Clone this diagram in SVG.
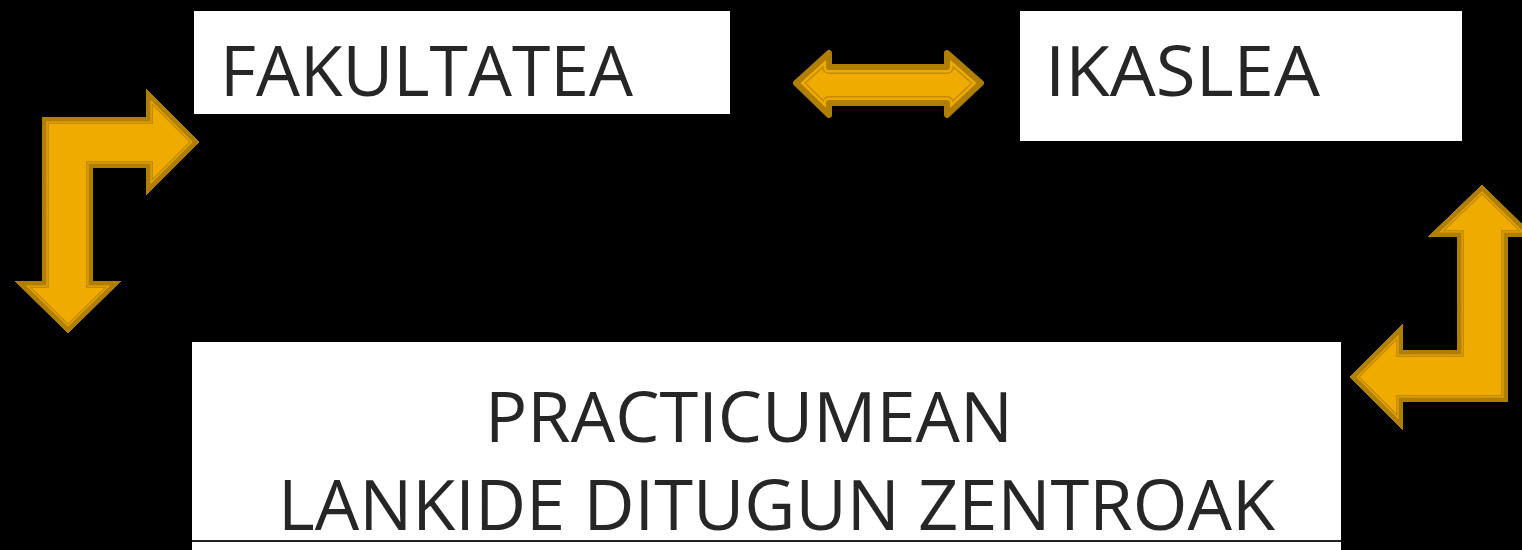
<svg xmlns="http://www.w3.org/2000/svg" xmlns:xlink="http://www.w3.org/1999/xlink" width="1522" height="550" viewBox="0 0 1522 550">
<style>
.box{fill:#ffffff}
.lbl{font-family:"Open Sans","Liberation Sans",sans-serif;font-size:70px;fill:#262626}
.afill{fill:#EFAB00}
.c1{fill:none;stroke:#C48C00;stroke-width:14}
.c2{fill:none;stroke:#EFAB00;stroke-width:11}
.c3{fill:none;stroke:#B07E00;stroke-width:9}
.rnd{fill:none;stroke:#B07E00;stroke-width:6;stroke-linejoin:round}
</style>
<defs>
<path id="pL" d="M42,117 L146,117 L146,89 L199,142 L146,195 L146,168 L93,168 L93,281 L121,281 L68,333 L15,281 L42,281 Z"/>
<path id="pR" d="M1482,185 L1535,237 L1508,237 L1508,402 L1403,402 L1403,430 L1350,377 L1403,324 L1403,350 L1457,350 L1457,237 L1428,237 Z"/>
<path id="pD" d="M796,83 L829,53 L829,67 L947,67 L947,53 L981,83 L947,115 L947,103 L829,103 L829,115 Z"/>
<clipPath id="clL"><use xlink:href="#pL"/></clipPath>
<clipPath id="clR"><use xlink:href="#pR"/></clipPath>
<clipPath id="clD"><use xlink:href="#pD"/></clipPath>
</defs>
<rect x="0" y="0" width="1522" height="550" fill="#000000"/>
<g id="node-fakultatea">
<rect class="box" x="194" y="11" width="536" height="103"/>
<text class="lbl" x="220" y="96" textLength="413" lengthAdjust="spacingAndGlyphs" fill="#111">FAKULTATEA</text>
</g>
<g id="node-ikaslea">
<rect class="box" x="1020" y="11" width="442" height="130"/>
<text class="lbl" x="1045" y="96" textLength="275" lengthAdjust="spacingAndGlyphs">IKASLEA</text>
</g>
<g id="node-practicum">
<rect class="box" x="192" y="342" width="1149" height="208"/>
<line x1="192" y1="541" x2="1341" y2="541" stroke="#222" stroke-width="2"/>
<text class="lbl" x="485" y="442" textLength="528" lengthAdjust="spacingAndGlyphs">PRACTICUMEAN</text>
<text class="lbl" x="278" y="530" textLength="997" lengthAdjust="spacingAndGlyphs">LANKIDE DITUGUN ZENTROAK</text>
</g>
<g id="connectors">
<g id="arrow-left">
<use xlink:href="#pL" class="afill"/>
<g clip-path="url(#clL)">
<use xlink:href="#pL" class="c1"/>
<use xlink:href="#pL" class="c2"/>
<use xlink:href="#pL" class="c3"/>
</g>
</g>
<g id="arrow-right">
<use xlink:href="#pR" class="afill"/>
<g clip-path="url(#clR)">
<use xlink:href="#pR" class="c1"/>
<use xlink:href="#pR" class="c2"/>
<use xlink:href="#pR" class="c3"/>
</g>
</g>
<g id="arrow-double">
<use xlink:href="#pD" class="afill"/>
<g clip-path="url(#clD)">
<use xlink:href="#pD" class="c1" style="stroke-linejoin:round"/>
<use xlink:href="#pD" class="c2" style="stroke-linejoin:round"/>
</g>
<use xlink:href="#pD" class="rnd"/>
</g>
</g>
</svg>
